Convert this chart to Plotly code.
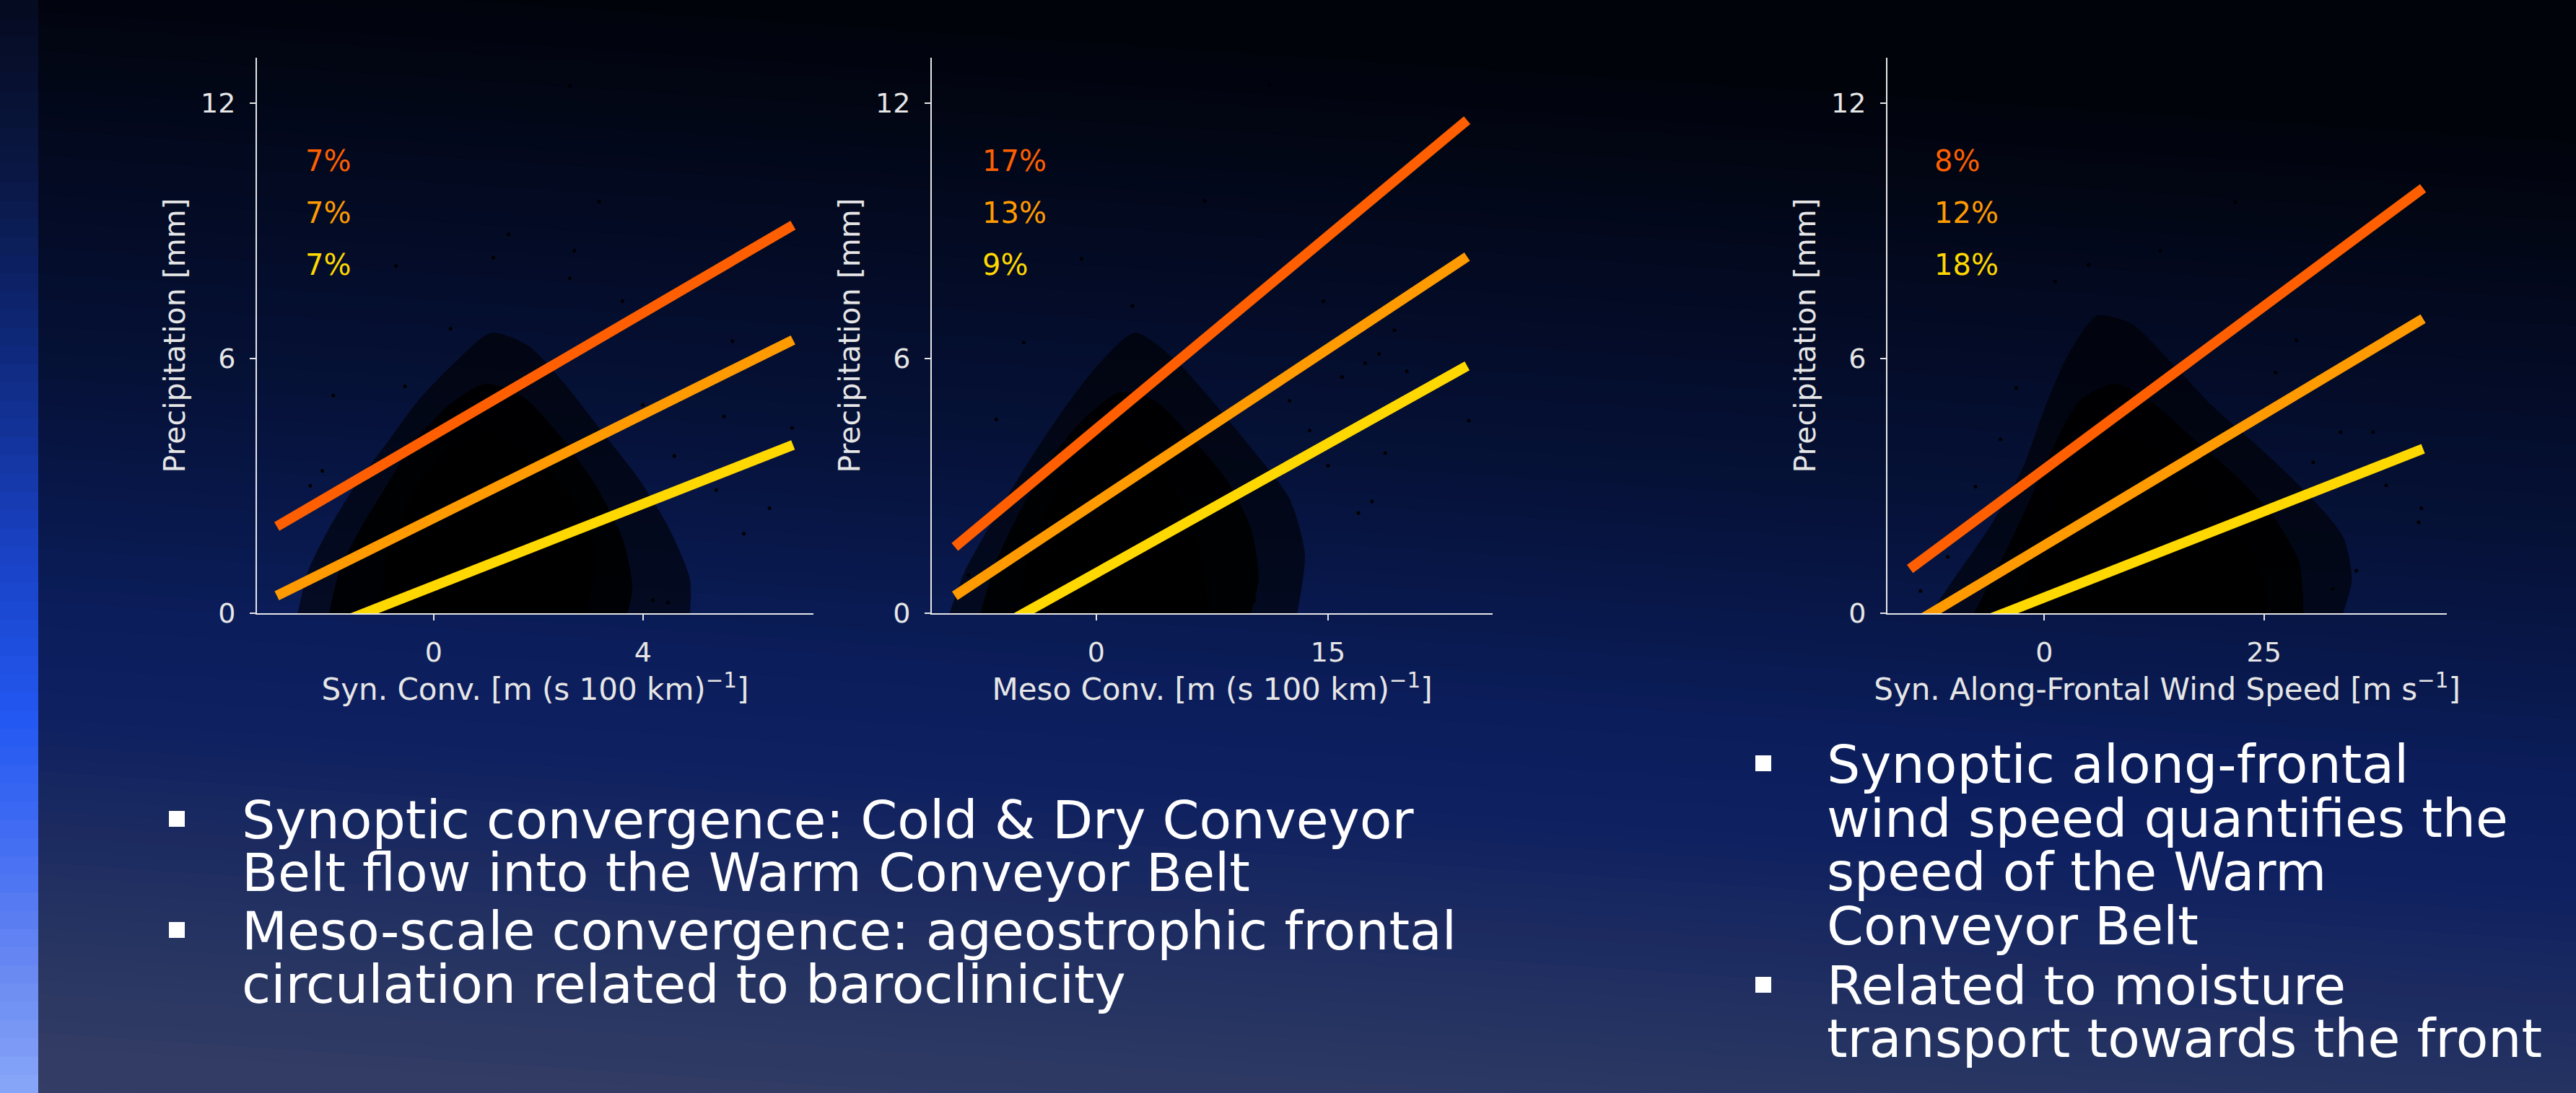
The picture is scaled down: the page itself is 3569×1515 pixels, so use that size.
import plotly.graph_objects as go

W, H = 3569, 1515

# ---------------- data ----------------
quantile_colors = ["#FF5F00", "#FF9A00", "#FFD800"]

x_titles = ["Syn. Conv. [m (s 100 km)<sup>−1</sup>]",
            "Meso Conv. [m (s 100 km)<sup>−1</sup>]",
            "Syn. Along-Frontal Wind Speed [m s<sup>−1</sup>]"]
y_title = "Precipitation [mm]"
x_tickvals = [[0, 4], [0, 15], [0, 25]]
y_tickvals = [0, 6, 12]
x_ranges = [[-3.38, 7.26], [-10.65, 25.65], [-17.86, 45.8]]
y_range = [0, 13.07]

pct_labels = [["7%", "7%", "7%"], ["17%", "13%", "9%"], ["8%", "12%", "18%"]]

# quantile regression lines: x ends and y ends (red, orange, yellow)
line_x1 = [-3.0, 6.87]
line_y1 = [[2.04, 9.13], [0.41, 6.43], [-0.81, 3.96]]
line_x2 = [-9.16, 24.0]
line_y2 = [[1.56, 11.6], [0.41, 8.39], [-0.91, 5.82]]
line_x3 = [-15.3, 43.1]
line_y3 = [[1.04, 10.0], [-0.30, 6.93], [-0.87, 3.87]]

# scatter cloud outlines (outer sparse fringe, dense speckle, solid core)
outer_x1 = [-2.6, -2.4, -2.0, -1.5, -0.9, -0.3, 0.4, 1.1, 1.8, 2.5, 3.2, 3.9, 4.5, 4.9, 4.9]
outer_y1 = [0, 1.0, 2.0, 3.0, 4.0, 5.0, 5.9, 6.6, 6.3, 5.4, 4.3, 3.2, 2.0, 0.8, 0]
mid_x1 = [-2.0, -1.8, -1.4, -0.9, -0.4, 0.3, 1.0, 1.7, 2.4, 3.1, 3.6, 3.8, 3.7]
mid_y1 = [0, 1.0, 2.0, 3.0, 4.0, 4.9, 5.4, 5.1, 4.2, 3.0, 1.8, 0.6, 0]
core_x1 = [-1.0, -0.95, -0.7, -0.3, 0.3, 1.0, 1.6, 2.2, 2.8, 3.1, 2.9]
core_y1 = [0, 1.0, 2.0, 3.0, 3.9, 4.3, 4.0, 3.3, 2.4, 1.2, 0]

outer_x2 = [-9.5, -8.5, -6.5, -4.5, -2.5, 0, 2.5, 5, 7.5, 10, 12.5, 13.5, 13]
outer_y2 = [0, 1.0, 2.3, 3.5, 4.6, 5.8, 6.6, 6.0, 5.0, 3.9, 2.7, 1.4, 0]
mid_x2 = [-7.5, -6.5, -4.8, -3, -1, 1.5, 3.8, 6, 8.5, 10, 10.5, 10]
mid_y2 = [0, 1.2, 2.5, 3.6, 4.5, 5.2, 5.0, 4.2, 3.1, 2.0, 0.8, 0]
core_x2 = [-5.0, -4.5, -3.3, -1.8, 0, 2.2, 4, 5.6, 6.8, 7.2]
core_y2 = [0, 1.2, 2.4, 3.3, 4.0, 4.2, 3.6, 2.5, 1.3, 0]

outer_x3 = [-13, -10, -6, -2.5, 0, 2.5, 6, 10, 14, 19, 25, 30, 34, 35, 34]
outer_y3 = [0, 0.9, 2.1, 3.4, 4.8, 6.0, 7.0, 6.8, 6.0, 4.9, 3.8, 2.8, 1.8, 0.8, 0]
mid_x3 = [-8, -5, -2, 1, 4, 8, 12, 17, 22, 26, 29, 29.5]
mid_y3 = [0, 1.2, 2.5, 3.9, 5.0, 5.4, 5.0, 4.1, 3.2, 2.3, 1.2, 0]
core_x3 = [-3.5, -1.2, 1.2, 3.6, 6.5, 10, 14, 18, 21.5, 24.5, 25.5]
core_y3 = [0, 1.2, 2.5, 3.5, 4.2, 4.1, 3.6, 2.9, 2.0, 1.0, 0]

# isolated points outside the dense cloud
pts_x1 = [-0.72, 1.43, 2.6, 3.16, 2.69, 2.6, -1.92, -2.13, -2.36, 5.71, 5.55, 6.42, 5.93, 4.48, 4.19, -0.55, 0.32, 1.14, 3.61, 6.85, 5.1, 5.4, 4.6, 4.0]
pts_y1 = [8.17, 8.91, 12.4, 9.69, 8.53, 7.88, 5.12, 3.35, 3.0, 6.4, 4.63, 2.47, 1.87, 0.25, 0.3, 5.34, 6.69, 8.37, 7.34, 4.36, 3.2, 2.9, 3.7, 4.9]
pts_x2 = [-0.96, 7.01, 11.22, -4.69, -6.48, 2.33, 17.4, 18.3, 19.3, 20.1, 24.1, 18.7, 17.85, 16.96, 15.0, 15.9, -8.87, -8.27, 10.24, 14.7, 13.8, 12.5]
pts_y2 = [8.34, 9.70, 12.43, 6.37, 4.56, 7.23, 5.88, 6.1, 6.66, 5.69, 4.53, 3.77, 2.63, 2.36, 3.47, 5.56, 0.47, 0.9, 0.3, 7.34, 4.3, 5.0]
pts_x3 = [1.23, -5.0, -7.84, -11.0, -14.1, 13.2, 21.75, 28.7, 37.4, 38.9, 42.9, 42.6, 35.5, 32.8, 26.65, 26.3, 33.7, 30.6, -3.2, 5.0]
pts_y3 = [7.81, 4.09, 2.98, 1.33, 0.52, 8.53, 9.67, 6.42, 4.26, 3.01, 2.47, 2.14, 1.0, 0.57, 0.41, 5.66, 4.26, 3.55, 5.3, 8.2]

bullets_left = [["Synoptic convergence: Cold & Dry Conveyor",
                 "Belt flow into the Warm Conveyor Belt"],
                ["Meso-scale convergence: ageostrophic frontal",
                 "circulation related to baroclinicity"]]
bullets_right = [["Synoptic along-frontal", "wind speed quantifies the",
                  "speed of the Warm", "Conveyor Belt"],
                 ["Related to moisture", "transport towards the front"]]

# ---------------- layout helpers ----------------
def px(x):
    return x / W


def py(y):
    return 1 - y / H


FONT = "DejaVu Sans, Verdana, sans-serif"
AXC = "#E6E6E6"

panel_px = [(356, 1127), (1291, 2068), (2615, 3390)]
ydom = [py(850), py(80)]

fig = go.Figure()

lines_x = [line_x1, line_x2, line_x3]
lines_y = [line_y1, line_y2, line_y3]
clouds = [[(outer_x1, outer_y1), (mid_x1, mid_y1), (core_x1, core_y1)],
          [(outer_x2, outer_y2), (mid_x2, mid_y2), (core_x2, core_y2)],
          [(outer_x3, outer_y3), (mid_x3, mid_y3), (core_x3, core_y3)]]
pts = [(pts_x1, pts_y1), (pts_x2, pts_y2), (pts_x3, pts_y3)]
fills = ["rgba(0,0,0,0.6)", "rgba(0,0,0,0.88)", "rgba(0,0,0,1)"]

for i in range(3):
    xa = "x" if i == 0 else f"x{i+1}"
    ya = "y" if i == 0 else f"y{i+1}"
    for (cx, cy), fc in zip(clouds[i], fills):
        fig.add_trace(go.Scatter(x=cx, y=cy, xaxis=xa, yaxis=ya, mode="lines",
                                 fill="toself", fillcolor=fc,
                                 line=dict(width=0, color=fc, shape="spline", smoothing=0.7),
                                 hoverinfo="skip", showlegend=False))
    fig.add_trace(go.Scatter(x=pts[i][0], y=pts[i][1], xaxis=xa, yaxis=ya, mode="markers",
                             marker=dict(color="black", size=5), hoverinfo="skip",
                             showlegend=False))
    for k in range(3):
        fig.add_trace(go.Scatter(x=lines_x[i], y=lines_y[i][k], xaxis=xa, yaxis=ya,
                                 mode="lines", line=dict(color=quantile_colors[k], width=14),
                                 showlegend=False))

    axis_common = dict(showline=True, linecolor=AXC, linewidth=2, ticks="outside",
                       ticklen=8, tickwidth=2, tickcolor=AXC, showgrid=False,
                       zeroline=False, automargin=False,
                       tickfont=dict(family=FONT, size=38, color=AXC))
    xkey = "xaxis" if i == 0 else f"xaxis{i+1}"
    ykey = "yaxis" if i == 0 else f"yaxis{i+1}"
    fig.update_layout(**{
        xkey: dict(domain=[px(panel_px[i][0]), px(panel_px[i][1])], range=x_ranges[i],
                   tickvals=x_tickvals[i], anchor=ya, ticklabelstandoff=11,
                   title=dict(text=x_titles[i], standoff=10,
                              font=dict(family=FONT, size=42, color=AXC)),
                   **axis_common),
        ykey: dict(domain=ydom, range=y_range, tickvals=y_tickvals, anchor=xa,
                   ticklabelstandoff=12,
                   title=dict(text=y_title, standoff=9,
                              font=dict(family=FONT, size=41, color=AXC)),
                   **axis_common),
    })

# percentage labels
pct_x = [421, 1359, 2678]
pct_y = [223, 295, 367]
annotations = []
for i in range(3):
    for k in range(3):
        annotations.append(dict(x=px(pct_x[i]), y=py(pct_y[k]), xref="paper", yref="paper",
                                text=pct_labels[i][k], showarrow=False, xanchor="left",
                                yanchor="middle",
                                font=dict(family=FONT, size=40, color=quantile_colors[k])))

shapes = []

# bullet texts (cap centres in px), bullet squares drawn as small rects
BF = 73
TEXT_DY = 1
left_mid = [[1135, 1208], [1289, 1363]]
right_mid = [[1058, 1133, 1207, 1282], [1365, 1438]]
bullet_marks = []
for blist, mids, tx, bx in [(bullets_left, left_mid, 337, 245),
                            (bullets_right, right_mid, 2533, 2443)]:
    for b, ms in zip(blist, mids):
        bullet_marks.append((bx, ms[0]))
        for line, m in zip(b, ms):
            annotations.append(dict(x=px(tx - 4), y=py(m + TEXT_DY), xref="paper", yref="paper",
                                    text=line, showarrow=False, xanchor="left",
                                    yanchor="middle",
                                    font=dict(family=FONT, size=BF, color="white")))

# ---------------- background gradient ----------------
def lerp_color(stops, t):
    for (t0, c0), (t1, c1) in zip(stops[:-1], stops[1:]):
        if t0 <= t <= t1:
            f = (t - t0) / (t1 - t0) if t1 > t0 else 0
            return "rgb(%d,%d,%d)" % tuple(round(a + (b - a) * f) for a, b in zip(c0, c1))
    if t < stops[0][0]:
        return "rgb(%d,%d,%d)" % stops[0][1]
    return "rgb(%d,%d,%d)" % stops[-1][1]


main_stops = [(0, (1, 3, 10)), (300, (3, 10, 34)), (600, (6, 18, 58)), (900, (11, 29, 90)),
              (1050, (14, 32, 96)), (1200, (27, 42, 96)), (1350, (38, 52, 98)),
              (1515, (50, 60, 100)), (1900, (56, 64, 104))]
strip_stops = [(0, (5, 10, 31)), (250, (10, 24, 69)), (500, (15, 42, 128)),
               (750, (24, 64, 192)), (1000, (35, 88, 242)), (1200, (74, 114, 242)),
               (1350, (106, 138, 242)), (1515, (136, 166, 248)), (1700, (140, 170, 250))]

shapes.append(dict(type="rect", xref="paper", yref="paper", x0=0, x1=1, y0=0, y1=1,
                   fillcolor="rgb(48,58,100)", line=dict(width=0), layer="below"))
N = 100
tilt = 240
top = -tilt - 20
bot = H + 40
for j in range(N):
    y0 = top + j * (bot - top) / N
    y1 = top + (j + 1) * (bot - top) / N + 1.5
    col = lerp_color(main_stops, max(0, (y0 + y1) / 2 + 60))
    path = "M %.5f,%.5f L %.5f,%.5f L %.5f,%.5f L %.5f,%.5f Z" % (
        0, py(y0), 1, py(y0 + tilt), 1, py(y1 + tilt), 0, py(y1))
    shapes.append(dict(type="path", xref="paper", yref="paper", path=path, fillcolor=col,
                       line=dict(width=0), layer="below"))
NS = 60
for j in range(NS):
    y0 = j * H / NS
    y1 = (j + 1) * H / NS + 1
    col = lerp_color(strip_stops, (y0 + y1) / 2)
    shapes.append(dict(type="rect", xref="paper", yref="paper", x0=0, x1=px(53),
                       y0=max(0, py(y1)), y1=py(y0), fillcolor=col, line=dict(width=0),
                       layer="below"))

for bx, by in bullet_marks:
    shapes.append(dict(type="rect", xref="paper", yref="paper", x0=px(bx - 11), x1=px(bx + 11),
                       y0=py(by + 11), y1=py(by - 11), fillcolor="white",
                       line=dict(width=0), layer="above"))

fig.update_layout(width=W, height=H,
                  margin=dict(l=0, r=0, t=0, b=0, pad=0, autoexpand=False),
                  paper_bgcolor="#01030a", plot_bgcolor="rgba(0,0,0,0)",
                  shapes=shapes, annotations=annotations, showlegend=False,
                  font=dict(family=FONT, color=AXC))

page_fix = (
    "var de=document.documentElement, b=document.body;"
    "de.style.margin='0'; de.style.padding='0'; de.style.height='1515px';"
    "de.style.overflow='hidden'; de.style.background='#01030a';"
    "b.style.margin='0'; b.style.padding='0'; b.style.height='1515px';"
    "b.style.overflow='hidden'; b.style.background='#01030a';"
    "var d=document.getElementById('{plot_id}');"
    "d.style.position='absolute'; d.style.left='0px'; d.style.top='0px';"
)

fig.write_html("out.html",
               config={"displayModeBar": False, "responsive": False},
               post_script=page_fix)
